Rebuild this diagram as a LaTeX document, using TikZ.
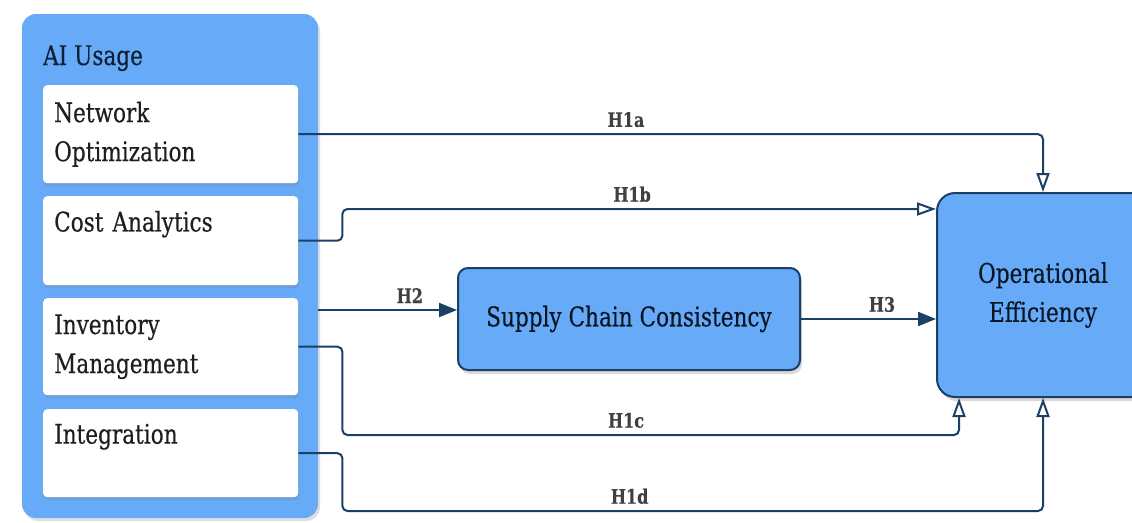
\documentclass[tikz,border=0pt]{standalone}
\usepackage{fontspec}
\setmainfont{DejaVu Serif}[FakeStretch=0.8, FakeBold=0.35]
\usetikzlibrary{arrows.meta, positioning, shadows, calc}
\definecolor{azulcaja}{HTML}{66AAF8}
\definecolor{azulmarino}{HTML}{1C3F66}
\definecolor{grisoscuro}{HTML}{1E1E1E}
\colorlet{colFlecha}{azulmarino}
\colorlet{colTexto}{grisoscuro}
\newcommand\fuenteCaja{\fontsize{27}{39}\selectfont}
\newcommand\fuenteEtiqueta{\fontsize{20}{22}\selectfont\bfseries}
\tikzset{
  cajaUso/.style={
    fill=azulcaja, rounded corners=14pt,
    drop shadow={opacity=0.25, shadow xshift=2pt, shadow yshift=-3pt}
  },
  cajaDim/.style={
    fill=white, rounded corners=4pt, anchor=north west,
    minimum width=255pt, text width=233pt, inner xsep=11pt,
    align=left, font=\fuenteCaja, text=colTexto,
    drop shadow={opacity=0.25, shadow xshift=1pt, shadow yshift=-3pt}
  },
  cajaAzul/.style={
    fill=azulcaja, draw=azulmarino, line width=2pt,
    align=center, font=\fuenteCaja, text=azulmarino!35!black,
    drop shadow={opacity=0.3, shadow xshift=2pt, shadow yshift=-4pt}
  },
  flecha/.style={-{Triangle[length=18pt, width=14pt]}, line width=2pt, colFlecha},
  flechaAbierta/.style={-{Triangle[open, length=19pt, width=13pt]}, line width=2pt,
    colFlecha, rounded corners=5pt},
  etiqueta/.style={above, font=\fuenteEtiqueta, text=colTexto!85!white,
    inner xsep=3pt, inner ysep=6pt},
}
\begin{document}
\begin{tikzpicture}[x=1pt, y=-1pt]
  \useasboundingbox (0,0) rectangle (1132,522);
  % Uso de IA
  \node[cajaUso, minimum width=296pt, minimum height=504pt] (uso) at (170,266) {};
  \node[anchor=base west, font=\fuenteCaja, text=azulmarino!50!black, inner sep=0pt] (titulo) at (43,65) {AI Usage};
  \node[cajaDim, minimum height=98pt] (red) at (43,85) {Network\\Optimization};
  \node[cajaDim, minimum height=89pt] (costo) at (43,196) {Cost Analytics\\~};
  \node[cajaDim, minimum height=97pt] (inv) at (43,298) {Inventory\\Management};
  \node[cajaDim, minimum height=88pt] (integ) at (43,409) {Integration\\~};

  % Mediador y resultado
  \node[cajaAzul, minimum width=342pt, minimum height=102pt, rounded corners=10pt] (scc) at (629,319) {Supply Chain Consistency};
  \node[cajaAzul, minimum width=212pt, minimum height=204pt, rounded corners=18pt] (efic) at (1043,295) {Operational\\Efficiency};

  % Hipotesis
  \coordinate (h2fin) at ([yshift=9pt]scc.west);
  \draw[flechaAbierta] (red.east) -| node[etiqueta, pos=0.22] {H1a} (efic.north);
  \draw[flechaAbierta] (costo.east) -- ++(44,0) |- node[etiqueta, pos=0.744] {H1b} ([yshift=-17pt]efic.north west);
  \draw[flechaAbierta] (inv.east) -- ++(44,0) |- node[etiqueta, pos=0.73] {H1c} ([xshift=23pt, yshift=-37pt]efic.south west) -- ([xshift=23pt]efic.south west);
  \draw[flechaAbierta] (integ.east) -- ++(44,0) |- node[etiqueta, pos=0.705] {H1d} ([yshift=-113pt]efic.south) -- (efic.south);
  \draw[flecha] (h2fin -| uso.east) -- node[etiqueta, pos=0.66] {H2} (h2fin);
  \draw[flecha] (scc.east) -- node[etiqueta, pos=0.6] {H3} (scc.east -| efic.west);
\end{tikzpicture}
\end{document}
